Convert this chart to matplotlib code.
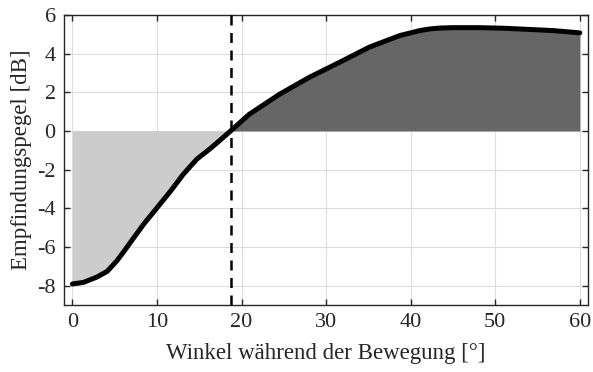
import numpy as np
import matplotlib
matplotlib.use("Agg")
from matplotlib import pyplot as plt

# Kurve: Empfindungspegel über Winkel
winkel = [0, 1.3, 2.9, 4.1, 5.2, 6.0, 6.8, 8.4, 10.0, 11.6, 13.1, 14.7, 16.3, 17.5, 18.7,
          20.9, 24.5, 28.0, 31.6, 35.1, 38.7, 41.1, 42.2, 43.5, 45, 48, 51, 52.9, 56.8, 60]
pegel = [-7.91, -7.83, -7.55, -7.26, -6.74, -6.28, -5.79, -4.83, -3.97, -3.11, -2.24, -1.46,
         -0.91, -0.46, 0.0, 0.86, 1.9, 2.77, 3.55, 4.33, 4.93, 5.19, 5.27, 5.32, 5.34, 5.34,
         5.31, 5.27, 5.19, 5.07]
schwelle = 18.7

plt.rcParams['font.family'] = ['Liberation Serif', 'DejaVu Serif']
plt.rcParams['axes.unicode_minus'] = False

fig = plt.figure(figsize=(5.93, 3.72), dpi=100)
ax = fig.add_axes([0.108, 0.18, 0.884, 0.78])

x = np.array(winkel)
y = np.array(pegel)
ax.fill_between(x, y, 0, where=x <= schwelle, color='#cccccc', linewidth=0, zorder=1)
ax.fill_between(x, y, 0, where=x >= schwelle, color='#666666', linewidth=0, zorder=1)
ax.plot(x, y, color='black', linewidth=3.6, solid_capstyle='round',
        solid_joinstyle='round', zorder=3)
ax.axvline(schwelle, color='black', linewidth=1.8, linestyle=(0, (4, 3)), zorder=4)

ax.set_xlim(-1, 61)
ax.set_ylim(-9, 6)
ax.set_xticks([0, 10, 20, 30, 40, 50, 60])
ax.set_yticks([-8, -6, -4, -2, 0, 2, 4, 6])
ax.grid(True, color='#dddddd', linewidth=0.8, zorder=0)
ax.set_axisbelow(True)
ax.tick_params(direction='in', top=True, right=True, length=4, width=1, pad=6,
               labelsize=16, colors='#262626', labelcolor='#262626')
for s in ax.spines.values():
    s.set_color('#262626')
    s.set_linewidth(1)

ax.set_xlabel("Winkel während der Bewegung [°]", fontsize=16.5, color='#262626', labelpad=8)
ax.set_ylabel("Empfindungspegel [dB]", fontsize=16.5, color='#262626', labelpad=4)

fig.savefig("out.png", dpi=100)
